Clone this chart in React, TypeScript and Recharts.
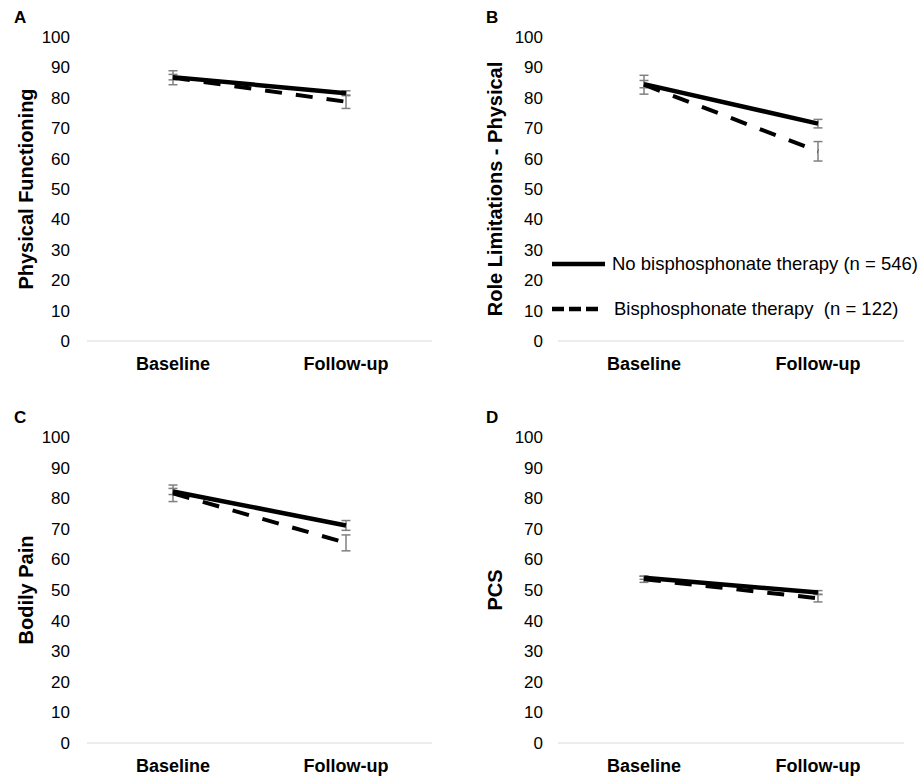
import { ErrorBar, Line, LineChart, XAxis, YAxis } from "recharts";

const categories = ["Baseline", "Follow-up"];
const yTicks = [0, 10, 20, 30, 40, 50, 60, 70, 80, 90, 100];

// A - Physical Functioning
const pfNone = [86.8, 81.5];
const pfNoneErr = [0.9, 0.8];
const pfBis = [86.6, 78.7];
const pfBisErr = [2.3, 2.2];
// B - Role Limitations - Physical
const rpNone = [84.5, 71.5];
const rpNoneErr = [1.2, 1.4];
const rpBis = [84.3, 62.4];
const rpBisErr = [3.1, 3.2];
// C - Bodily Pain
const bpNone = [82.2, 71.1];
const bpNoneErr = [1.0, 1.6];
const bpBis = [81.6, 65.4];
const bpBisErr = [2.7, 2.6];
// D - PCS
const pcsNone = [54.0, 49.2];
const pcsNoneErr = [0.5, 0.6];
const pcsBis = [53.5, 47.3];
const pcsBisErr = [1.0, 1.2];

const FONT = "'Liberation Sans', Arial, sans-serif";

function rows(none: number[], noneErr: number[], bis: number[], bisErr: number[]) {
  return categories.map((cat, i) => ({
    cat, none: none[i], noneErr: noneErr[i], bis: bis[i], bisErr: bisErr[i],
  }));
}

function Panel({ letter, title, data, left, top, axisW, right, bottom, labelDx, tickGap, letterX }: {
  letter: string; title: string; data: ReturnType<typeof rows>; left: number; top: number;
  axisW: number; right: number; bottom: number; labelDx: number; tickGap: number; letterX: number;
}) {
  return (
    <div style={{ position: "absolute", left, top, width: 462, height: 389 }}>
      <LineChart width={462} height={389} data={data} margin={{ top: 37, right, bottom, left: 0 }}>
        {/* padding puts the two points at band centres, like a category axis in Excel */}
        <XAxis dataKey="cat" height={40} stroke="#d9d9d9" tickLine={false} tickSize={0} tickMargin={16}
          padding={{ left: 86, right: 86 }} tick={{ fill: "#000", fontSize: 18, fontWeight: 700 }} />
        <YAxis type="number" domain={[0, 100]} ticks={yTicks} width={axisW} axisLine={false} tickLine={false}
          tickSize={0} tickMargin={tickGap} tick={{ fill: "#000", fontSize: 17 }}
          label={{ value: title, angle: -90, position: "center", dx: labelDx,
            style: { fontWeight: 700, fontSize: 20, fill: "#000" } }} />
        {/* error bars first so the lines sit on top */}
        <Line dataKey="bis" stroke="none" dot={false} activeDot={false} isAnimationActive={false}>
          <ErrorBar dataKey="bisErr" direction="y" width={4.5} strokeWidth={1.5} stroke="#808080" />
        </Line>
        <Line dataKey="none" stroke="none" dot={false} activeDot={false} isAnimationActive={false}>
          <ErrorBar dataKey="noneErr" direction="y" width={4.5} strokeWidth={1.5} stroke="#808080" />
        </Line>
        <Line dataKey="bis" stroke="#000" strokeWidth={4} strokeDasharray="17 14" dot={false} activeDot={false} isAnimationActive={false} />
        <Line dataKey="none" stroke="#000" strokeWidth={4.5} dot={false} activeDot={false} isAnimationActive={false} />
      </LineChart>
      <div style={{ position: "absolute", left: letterX, top: 8, fontWeight: 700, fontSize: 17 }}>{letter}</div>
    </div>
  );
}

export default function App() {
  return (
    <div style={{ position: "absolute", left: 0, top: 0, width: 924, height: 778, background: "#fff", fontFamily: FONT }}>
      <Panel letter="A" title="Physical Functioning" data={rows(pfNone, pfNoneErr, pfBis, pfBisErr)}
        left={0} top={0} axisW={87} right={30} bottom={8} labelDx={-18} tickGap={17} letterX={14} />
      <Panel letter="B" title="Role Limitations - Physical" data={rows(rpNone, rpNoneErr, rpBis, rpBisErr)}
        left={462} top={0} axisW={96} right={20} bottom={8} labelDx={-15} tickGap={15} letterX={24} />
      <Panel letter="C" title="Bodily Pain" data={rows(bpNone, bpNoneErr, bpBis, bpBisErr)}
        left={0} top={400} axisW={87} right={30} bottom={6} labelDx={-18} tickGap={17} letterX={14} />
      <Panel letter="D" title="PCS" data={rows(pcsNone, pcsNoneErr, pcsBis, pcsBisErr)}
        left={462} top={400} axisW={96} right={20} bottom={6} labelDx={-15} tickGap={15} letterX={24} />

      <div style={{ position: "absolute", left: 552, top: 252, fontSize: 18.5, color: "#000", whiteSpace: "pre" }}>
        <div style={{ display: "flex", alignItems: "center", height: 24 }}>
          <svg width={60} height={24}><line x1={0} y1={12} x2={53} y2={12} stroke="#000" strokeWidth={4.5} /></svg>
          <span>No bisphosphonate therapy (n = 546)</span>
        </div>
        <div style={{ display: "flex", alignItems: "center", height: 24, marginTop: 21 }}>
          <svg width={62} height={24}><line x1={0} y1={12} x2={48} y2={12} stroke="#000" strokeWidth={4.5} strokeDasharray="12 5" /></svg>
          <span>Bisphosphonate therapy  (n = 122)</span>
        </div>
      </div>
    </div>
  );
}
